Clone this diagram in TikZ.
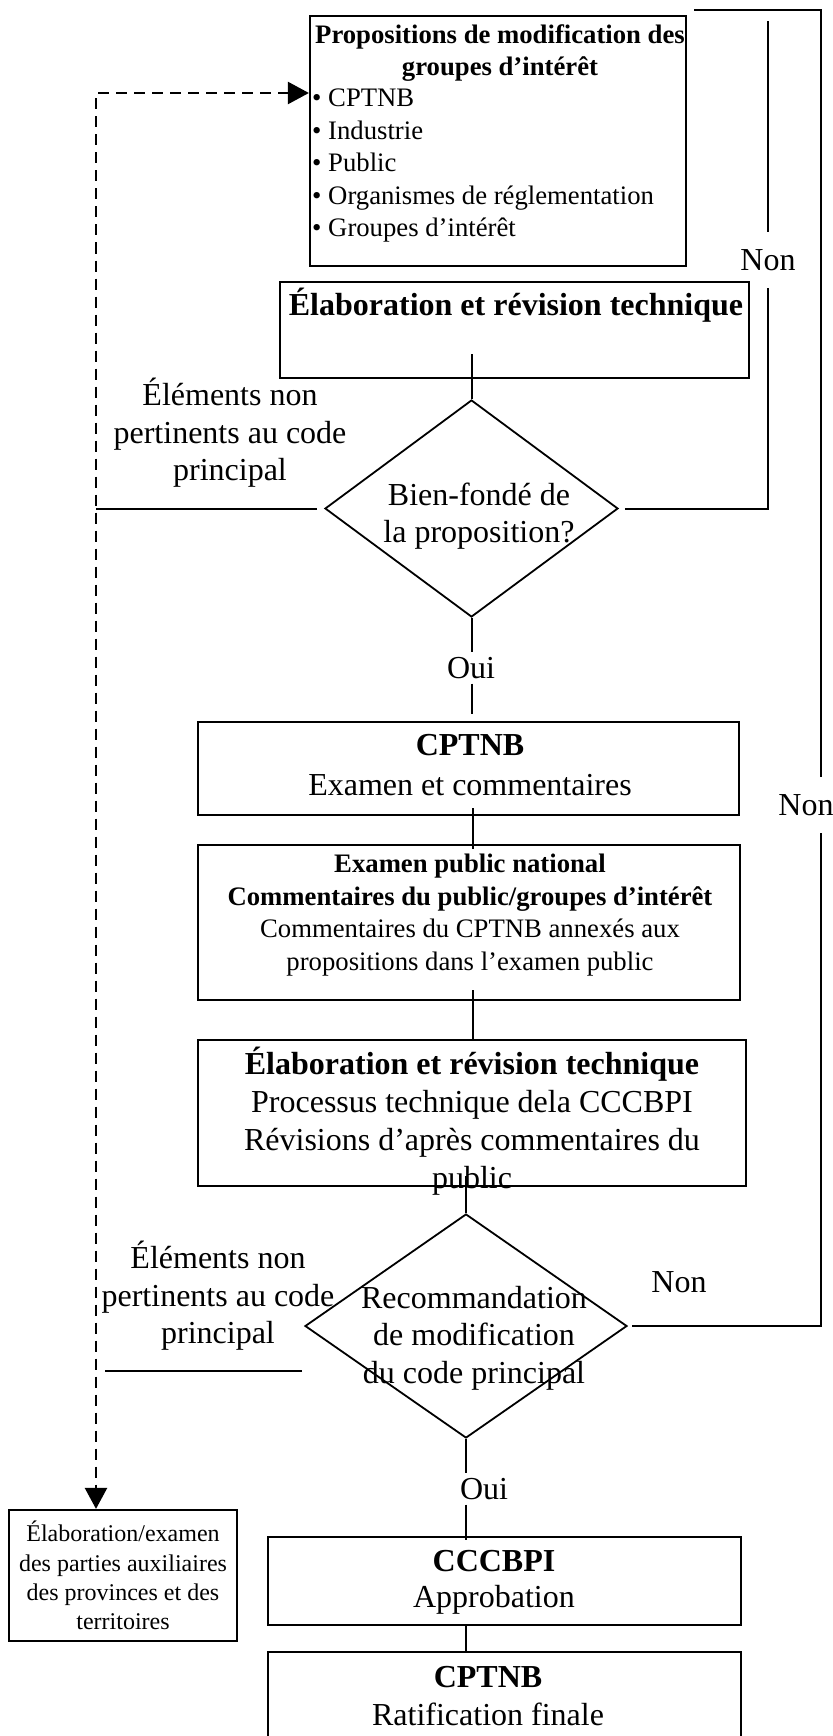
\documentclass[tikz,border=0pt]{standalone}
\usepackage{fontspec}
\setmainfont{Liberation Serif}
\usetikzlibrary{shapes.geometric,arrows.meta}

\newcommand\bigtxt{\fontsize{32}{37.5}\selectfont}
\newcommand\midtxt{\fontsize{26.7}{32.5}\selectfont}
\newcommand\smalltxt{\fontsize{24}{29.3}\selectfont}

\tikzset{
  box/.style={draw, line width=2.2pt, inner sep=0pt},
  choice/.style={draw, diamond, line width=1.8pt, inner sep=0pt},
  txt/.style={inner sep=0pt, align=center, font=\bigtxt},
  gap/.style={txt, minimum height=56pt},
  ouigap/.style={txt, minimum height=31pt},
  link/.style={line width=2pt},
  hop/.style={line width=2.4pt, dash pattern=on 11pt off 7pt, >={Triangle[length=21pt, width=22pt]}},
}

\begin{document}
\begin{tikzpicture}[x=1pt, y=-1pt]
            \useasboundingbox (0,0) rectangle (832,1736);

            % boxes
            \node[box, minimum width=376, minimum height=250] (props) at (498,141) {};
            \node[box, minimum width=469, minimum height=96] (elab1) at (514.5,330) {};
            \node[box, minimum width=541, minimum height=93] (cptnb) at (468.5,768.5) {};
            \node[box, minimum width=542, minimum height=155] (review) at (469,922.5) {};
            \node[box, minimum width=548, minimum height=146] (elab2) at (472,1113) {};
            \node[box, minimum width=473, minimum height=88] (cccbpi) at (504.5,1581) {};
            \node[box, minimum width=473, minimum height=100] (final) at (504.5,1702) {};
            \node[box, minimum width=228, minimum height=131, align=center, font=\smalltxt] (aux) at (123,1575.5)
                {Élaboration/examen\\des parties auxiliaires\\des provinces et des\\territoires};

            % decisions
            \node[choice, minimum width=293, minimum height=217] (fonde) at (471.5,508.5) {};
            \node[choice, minimum width=322, minimum height=224] (rec) at (466,1326) {};

            % texts
            \node[txt, font=\midtxt\bfseries] (propst) at (500,53)
                {Propositions de modification des\\groupes d’intérêt};
            \node[anchor=north west, inner sep=0pt, align=left, font=\midtxt] (propsl) at (312,89)
                {• CPTNB\\ • Industrie\\ • Public\\ • Organismes de réglementation\\ • Groupes d’intérêt};
            \node[txt, font=\bigtxt\bfseries] (elab1t) at (516,305) {Élaboration et révision technique};
            \node[txt] (fondet) at (479,516) {Bien-fondé de\\la proposition?};
            \node[txt] (cptnbt) at (470,765) {\textbf{CPTNB}\\[2.5pt]Examen et commentaires};
            \node[txt, font=\midtxt] (reviewt) at (470,915)
                {\textbf{Examen public national}\\\textbf{Commentaires du public/groupes d’intérêt}\\
                 Commentaires du CPTNB annexés aux\\propositions dans l’examen public};
            \node[txt, font=\fontsize{32}{38}\selectfont] (elab2t) at (472,1121)
                {\textbf{Élaboration et révision technique}\\Processus technique dela CCCBPI\\
                 Révisions d’après commentaires du\\public};
            \node[txt] (rect) at (474,1338) {Recommandation\\de modification\\du code principal};
            \node[txt, font=\fontsize{32}{36}\selectfont] (cccbpit) at (494,1582) {\textbf{CCCBPI}\\Approbation};
            \node[txt, font=\fontsize{32}{38}\selectfont] (finalt) at (488,1696) {\textbf{CPTNB}\\Ratification finale};

            % labels on the connectors
            \node[txt] (elem1) at (230,433) {Éléments non\\pertinents au code\\principal};
            \node[txt] (elem2) at (218,1296) {Éléments non\\pertinents au code\\principal};
            \node[gap] (non1) at (768,260) {Non};
            \node[gap] (non2) at (806,805) {Non};
            \node[txt] (non3) at (679,1282) {Non};
            \node[ouigap] (oui1) at (471,668) {Oui};
            \node[ouigap] (oui2) at (484,1489) {Oui};

            % dashed feedback to the proposals and to the auxiliary parts
            \coordinate (bend) at (96,93);
            \draw[hop, <->] (props.west |- bend) -- (bend) -- (bend |- aux.north);

            % first decision
            \draw[link] (fonde.north) -- ++(0,-45);
            \draw[link] ([xshift=-7pt]fonde.west) -- (bend |- fonde.west);
            \draw[link] ([xshift=6pt]fonde.east) -| (non1.south);
            \draw[link] (non1.north) -- ++(0,-211);
            \draw[link] (fonde.south) -- (fonde.south |- oui1.north);
            \draw[link] (fonde.south |- oui1.south) -- ++(0,30);

            % outer loop back
            \coordinate (rt) at (821,10);
            \draw[link] (rt) ++(-127,0) -- (rt) -- (rt |- non2.north);
            \draw[link] (rt |- non2.south) -- (rt |- rec.east) -- ([xshift=4pt]rec.east);

            % main chain
            \draw[link] ([shift={(4,-8)}]cptnb.south) -- ++(0,41);
            \draw[link] ([shift={(4,-11)}]review.south) -- ++(0,50);
            \draw[link] (rec.north) -- ++(0,-37);

            % second decision
            \draw[link] ([shift={(-2,45)}]rec.west) -- ++(-197,0);
            \draw[link] (rec.south) -- (rec.south |- oui2.north);
            \draw[link] (rec.south |- oui2.south) -- ++(0,35);
            \draw[link] (cccbpi.south -| rec.south) -- (final.north -| rec.south);
\end{tikzpicture}
\end{document}
